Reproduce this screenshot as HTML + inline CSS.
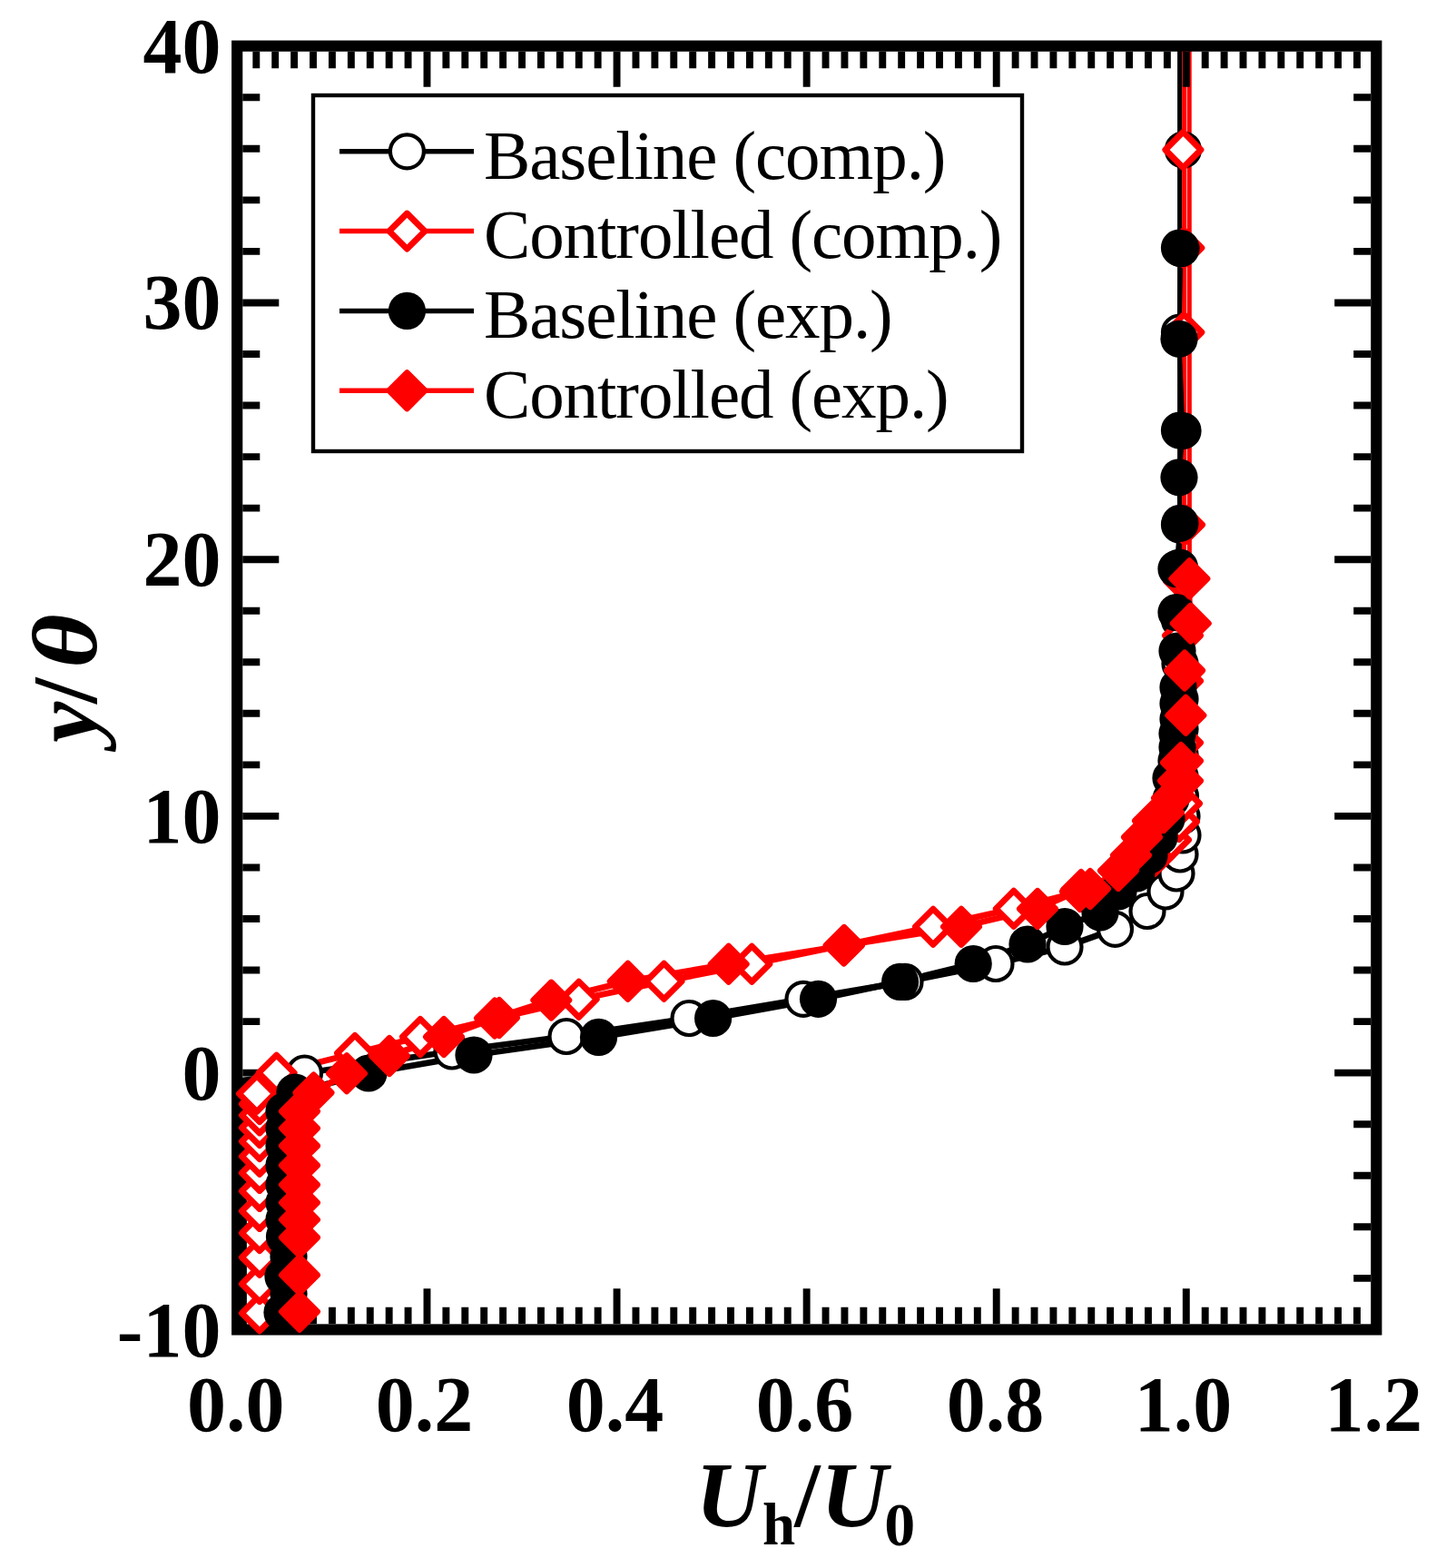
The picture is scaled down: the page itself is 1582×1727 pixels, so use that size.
<!DOCTYPE html>
<html><head><meta charset="utf-8"><style>
html,body{margin:0;padding:0;background:#fff;}
svg{display:block;}
.tk{font-family:"Liberation Serif",serif;font-weight:bold;font-size:86px;}
.lg{font-family:"Liberation Serif",serif;font-size:77px;letter-spacing:-1.1px;}
.ti{font-family:"Liberation Serif",serif;font-weight:bold;font-size:102px;}
.sub{font-size:66px;font-style:normal;}
</style></head><body>
<svg width="1582" height="1727" viewBox="0 0 1582 1727">
<polyline points="268.5,1464.0 268.5,1190.0 335.5,1182.0 498.0,1158.0 624.0,1141.5 759.0,1121.5 885.0,1100.3 997.0,1081.4 1097.0,1061.5 1173.0,1043.0 1228.5,1023.3 1264.0,1003.5 1284.0,982.0 1296.0,962.0 1300.0,941.0 1303.0,920.0 1302.0,899.0 1300.5,877.0 1300.0,855.0 1300.0,831.0 1300.0,803.0 1300.0,770.0 1300.0,731.0 1299.6,640.0" fill="none" stroke="#000" stroke-width="6.8" stroke-linejoin="round"/>
<polyline points="1299.6,640.0 1299.6,51.0" fill="none" stroke="#000" stroke-width="5.0" stroke-linejoin="round"/>
<polyline points="286.0,1446.3 286.0,1414.1 286.0,1384.8 286.0,1358.1 286.0,1333.9 286.0,1311.9 286.0,1291.9 286.0,1273.7 286.0,1257.1 286.0,1242.1 286.0,1228.4 286.0,1216.0 283.0,1204.7 304.6,1181.7 391.0,1160.0 463.0,1142.0 550.0,1121.0 637.7,1100.7 731.5,1080.8 828.3,1061.8 930.0,1041.0 1028.0,1020.7 1116.8,1000.8 1190.0,982.0 1240.0,962.0 1272.0,943.0 1290.0,925.0 1299.0,905.0 1302.0,885.0 1303.0,860.0 1303.0,838.0 1303.0,818.0 1303.0,790.0 1303.0,750.0 1303.0,700.0 1304.0,640.0" fill="none" stroke="#f00" stroke-width="6.8" stroke-linejoin="round"/>
<polyline points="1304.0,640.0 1304.6,578.0 1304.6,51.0" fill="none" stroke="#f00" stroke-width="5.0" stroke-linejoin="round"/>
<polyline points="311.0,1445.5 318.0,1425.0 312.0,1406.0 318.0,1384.0 313.5,1362.0 313.0,1343.3 313.0,1324.6 313.0,1304.9 313.0,1283.5 313.0,1262.0 313.0,1242.7 313.0,1224.0 325.0,1203.0 406.0,1182.0 522.0,1162.0 659.5,1142.4 785.6,1121.5 901.5,1100.3 991.6,1081.4 1072.2,1061.5 1132.0,1040.0 1173.0,1020.5 1212.0,1005.0 1232.0,982.0 1252.0,962.0 1266.0,942.0 1277.0,922.0 1285.0,902.0 1290.0,880.0 1290.0,857.0 1296.0,838.0 1297.0,823.0 1297.0,808.0 1298.0,792.0 1298.0,775.0 1298.0,757.0 1297.0,717.0 1296.0,674.6" fill="none" stroke="#000" stroke-width="6.8" stroke-linejoin="round"/>
<polyline points="1296.0,674.6 1296.0,626.6 1300.0,576.3 1299.0,525.8 1303.0,474.5 1299.0,373.3 1301.0,273.6" fill="none" stroke="#000" stroke-width="5.0" stroke-linejoin="round"/>
<polyline points="330.0,1444.7 330.0,1404.3 330.0,1363.0 330.0,1343.3 330.0,1324.6 330.0,1304.9 330.0,1283.5 330.0,1262.0 330.0,1242.7 330.0,1224.0 345.5,1203.5 382.0,1182.3 429.0,1163.0 489.0,1142.0 545.0,1121.5 607.3,1101.6 691.7,1080.8 802.7,1061.8 929.6,1041.5 1059.0,1020.7 1143.0,1001.0 1191.0,980.0 1201.0,979.0 1232.0,959.0 1246.0,942.0 1258.0,922.0 1270.0,904.0 1282.0,895.0 1291.0,879.0 1298.0,860.0 1301.0,840.0 1306.4,787.8 1305.1,738.5 1311.8,686.6" fill="none" stroke="#f00" stroke-width="6.8" stroke-linejoin="round"/>
<polyline points="1311.8,686.6 1310.4,637.3 1310.2,51.0" fill="none" stroke="#f00" stroke-width="5.0" stroke-linejoin="round"/>
<path d="M282.31,56.8v18.5 M282.31,1458.3v-18.5 M303.22,56.8v18.5 M303.22,1458.3v-18.5 M324.12,56.8v18.5 M324.12,1458.3v-18.5 M345.03,56.8v18.5 M345.03,1458.3v-18.5 M365.94,56.8v18.5 M365.94,1458.3v-18.5 M386.85,56.8v18.5 M386.85,1458.3v-18.5 M407.76,56.8v18.5 M407.76,1458.3v-18.5 M428.66,56.8v18.5 M428.66,1458.3v-18.5 M449.57,56.8v18.5 M449.57,1458.3v-18.5 M470.48,56.8v39 M470.48,1458.3v-39 M491.39,56.8v18.5 M491.39,1458.3v-18.5 M512.30,56.8v18.5 M512.30,1458.3v-18.5 M533.20,56.8v18.5 M533.20,1458.3v-18.5 M554.11,56.8v18.5 M554.11,1458.3v-18.5 M575.02,56.8v18.5 M575.02,1458.3v-18.5 M595.93,56.8v18.5 M595.93,1458.3v-18.5 M616.84,56.8v18.5 M616.84,1458.3v-18.5 M637.74,56.8v18.5 M637.74,1458.3v-18.5 M658.65,56.8v18.5 M658.65,1458.3v-18.5 M679.56,56.8v39 M679.56,1458.3v-39 M700.47,56.8v18.5 M700.47,1458.3v-18.5 M721.38,56.8v18.5 M721.38,1458.3v-18.5 M742.28,56.8v18.5 M742.28,1458.3v-18.5 M763.19,56.8v18.5 M763.19,1458.3v-18.5 M784.10,56.8v18.5 M784.10,1458.3v-18.5 M805.01,56.8v18.5 M805.01,1458.3v-18.5 M825.92,56.8v18.5 M825.92,1458.3v-18.5 M846.82,56.8v18.5 M846.82,1458.3v-18.5 M867.73,56.8v18.5 M867.73,1458.3v-18.5 M888.64,56.8v39 M888.64,1458.3v-39 M909.55,56.8v18.5 M909.55,1458.3v-18.5 M930.46,56.8v18.5 M930.46,1458.3v-18.5 M951.36,56.8v18.5 M951.36,1458.3v-18.5 M972.27,56.8v18.5 M972.27,1458.3v-18.5 M993.18,56.8v18.5 M993.18,1458.3v-18.5 M1014.09,56.8v18.5 M1014.09,1458.3v-18.5 M1035.00,56.8v18.5 M1035.00,1458.3v-18.5 M1055.90,56.8v18.5 M1055.90,1458.3v-18.5 M1076.81,56.8v18.5 M1076.81,1458.3v-18.5 M1097.72,56.8v39 M1097.72,1458.3v-39 M1118.63,56.8v18.5 M1118.63,1458.3v-18.5 M1139.54,56.8v18.5 M1139.54,1458.3v-18.5 M1160.44,56.8v18.5 M1160.44,1458.3v-18.5 M1181.35,56.8v18.5 M1181.35,1458.3v-18.5 M1202.26,56.8v18.5 M1202.26,1458.3v-18.5 M1223.17,56.8v18.5 M1223.17,1458.3v-18.5 M1244.08,56.8v18.5 M1244.08,1458.3v-18.5 M1264.98,56.8v18.5 M1264.98,1458.3v-18.5 M1285.89,56.8v18.5 M1285.89,1458.3v-18.5 M1306.80,56.8v39 M1306.80,1458.3v-39 M1327.71,56.8v18.5 M1327.71,1458.3v-18.5 M1348.62,56.8v18.5 M1348.62,1458.3v-18.5 M1369.52,56.8v18.5 M1369.52,1458.3v-18.5 M1390.43,56.8v18.5 M1390.43,1458.3v-18.5 M1411.34,56.8v18.5 M1411.34,1458.3v-18.5 M1432.25,56.8v18.5 M1432.25,1458.3v-18.5 M1453.16,56.8v18.5 M1453.16,1458.3v-18.5 M1474.06,56.8v18.5 M1474.06,1458.3v-18.5 M1494.97,56.8v18.5 M1494.97,1458.3v-18.5 M267.3,1407.85h19 M1510.2,1407.85h-19 M267.3,1351.30h19 M1510.2,1351.30h-19 M267.3,1294.76h19 M1510.2,1294.76h-19 M267.3,1238.21h19 M1510.2,1238.21h-19 M267.3,1181.66h40 M1510.2,1181.66h-40 M267.3,1125.11h19 M1510.2,1125.11h-19 M267.3,1068.56h19 M1510.2,1068.56h-19 M267.3,1012.02h19 M1510.2,1012.02h-19 M267.3,955.47h19 M1510.2,955.47h-19 M267.3,898.92h40 M1510.2,898.92h-40 M267.3,842.37h19 M1510.2,842.37h-19 M267.3,785.82h19 M1510.2,785.82h-19 M267.3,729.28h19 M1510.2,729.28h-19 M267.3,672.73h19 M1510.2,672.73h-19 M267.3,616.18h40 M1510.2,616.18h-40 M267.3,559.63h19 M1510.2,559.63h-19 M267.3,503.08h19 M1510.2,503.08h-19 M267.3,446.54h19 M1510.2,446.54h-19 M267.3,389.99h19 M1510.2,389.99h-19 M267.3,333.44h40 M1510.2,333.44h-40 M267.3,276.89h19 M1510.2,276.89h-19 M267.3,220.34h19 M1510.2,220.34h-19 M267.3,163.80h19 M1510.2,163.80h-19 M267.3,107.25h19 M1510.2,107.25h-19" stroke="#000" stroke-width="7.9" fill="none"/>
<rect x="261.2" y="50.65" width="1255.1" height="1413.8" fill="none" stroke="#000" stroke-width="12.2"/>
<circle cx="335.5" cy="1182.0" r="18.5" fill="#fff" stroke="#000" stroke-width="4.2"/>
<circle cx="498.0" cy="1158.0" r="18.5" fill="#fff" stroke="#000" stroke-width="4.2"/>
<circle cx="624.0" cy="1141.5" r="18.5" fill="#fff" stroke="#000" stroke-width="4.2"/>
<circle cx="759.0" cy="1121.5" r="18.5" fill="#fff" stroke="#000" stroke-width="4.2"/>
<circle cx="885.0" cy="1100.3" r="18.5" fill="#fff" stroke="#000" stroke-width="4.2"/>
<circle cx="997.0" cy="1081.4" r="18.5" fill="#fff" stroke="#000" stroke-width="4.2"/>
<circle cx="1097.0" cy="1061.5" r="18.5" fill="#fff" stroke="#000" stroke-width="4.2"/>
<circle cx="1173.0" cy="1043.0" r="18.5" fill="#fff" stroke="#000" stroke-width="4.2"/>
<circle cx="1228.5" cy="1023.3" r="18.5" fill="#fff" stroke="#000" stroke-width="4.2"/>
<circle cx="1264.0" cy="1003.5" r="18.5" fill="#fff" stroke="#000" stroke-width="4.2"/>
<circle cx="1284.0" cy="982.0" r="18.5" fill="#fff" stroke="#000" stroke-width="4.2"/>
<circle cx="1296.0" cy="962.0" r="18.5" fill="#fff" stroke="#000" stroke-width="4.2"/>
<circle cx="1300.0" cy="941.0" r="18.5" fill="#fff" stroke="#000" stroke-width="4.2"/>
<circle cx="1303.0" cy="920.0" r="18.5" fill="#fff" stroke="#000" stroke-width="4.2"/>
<circle cx="1302.0" cy="899.0" r="18.5" fill="#fff" stroke="#000" stroke-width="4.2"/>
<circle cx="1300.5" cy="877.0" r="18.5" fill="#fff" stroke="#000" stroke-width="4.2"/>
<circle cx="1300.0" cy="855.0" r="18.5" fill="#fff" stroke="#000" stroke-width="4.2"/>
<circle cx="1300.0" cy="831.0" r="18.5" fill="#fff" stroke="#000" stroke-width="4.2"/>
<circle cx="1300.0" cy="803.0" r="18.5" fill="#fff" stroke="#000" stroke-width="4.2"/>
<circle cx="1300.0" cy="770.0" r="18.5" fill="#fff" stroke="#000" stroke-width="4.2"/>
<circle cx="1300.0" cy="731.0" r="18.5" fill="#fff" stroke="#000" stroke-width="4.2"/>
<circle cx="1299.5" cy="683.0" r="18.5" fill="#fff" stroke="#000" stroke-width="4.2"/>
<circle cx="1299.5" cy="625.0" r="18.5" fill="#fff" stroke="#000" stroke-width="4.2"/>
<circle cx="1299.5" cy="578.0" r="18.5" fill="#fff" stroke="#000" stroke-width="4.2"/>
<circle cx="1299.5" cy="474.0" r="18.5" fill="#fff" stroke="#000" stroke-width="4.2"/>
<circle cx="1299.5" cy="366.0" r="18.5" fill="#fff" stroke="#000" stroke-width="4.2"/>
<circle cx="1299.5" cy="273.0" r="18.5" fill="#fff" stroke="#000" stroke-width="4.2"/>
<circle cx="1303.4" cy="165.0" r="18.5" fill="#fff" stroke="#000" stroke-width="4.2"/>
<path d="M286.0,1426.7L305.6,1446.3L286.0,1465.9L266.4,1446.3Z" fill="#fff" stroke="#f00" stroke-width="6.8" stroke-linejoin="round"/>
<path d="M286.0,1394.5L305.6,1414.1L286.0,1433.7L266.4,1414.1Z" fill="#fff" stroke="#f00" stroke-width="6.8" stroke-linejoin="round"/>
<path d="M286.0,1365.2L305.6,1384.8L286.0,1404.4L266.4,1384.8Z" fill="#fff" stroke="#f00" stroke-width="6.8" stroke-linejoin="round"/>
<path d="M286.0,1338.5L305.6,1358.1L286.0,1377.7L266.4,1358.1Z" fill="#fff" stroke="#f00" stroke-width="6.8" stroke-linejoin="round"/>
<path d="M286.0,1314.3L305.6,1333.9L286.0,1353.5L266.4,1333.9Z" fill="#fff" stroke="#f00" stroke-width="6.8" stroke-linejoin="round"/>
<path d="M286.0,1292.3L305.6,1311.9L286.0,1331.5L266.4,1311.9Z" fill="#fff" stroke="#f00" stroke-width="6.8" stroke-linejoin="round"/>
<path d="M286.0,1272.3L305.6,1291.9L286.0,1311.5L266.4,1291.9Z" fill="#fff" stroke="#f00" stroke-width="6.8" stroke-linejoin="round"/>
<path d="M286.0,1254.1L305.6,1273.7L286.0,1293.3L266.4,1273.7Z" fill="#fff" stroke="#f00" stroke-width="6.8" stroke-linejoin="round"/>
<path d="M286.0,1237.5L305.6,1257.1L286.0,1276.7L266.4,1257.1Z" fill="#fff" stroke="#f00" stroke-width="6.8" stroke-linejoin="round"/>
<path d="M286.0,1222.5L305.6,1242.1L286.0,1261.7L266.4,1242.1Z" fill="#fff" stroke="#f00" stroke-width="6.8" stroke-linejoin="round"/>
<path d="M286.0,1208.8L305.6,1228.4L286.0,1248.0L266.4,1228.4Z" fill="#fff" stroke="#f00" stroke-width="6.8" stroke-linejoin="round"/>
<path d="M286.0,1196.4L305.6,1216.0L286.0,1235.6L266.4,1216.0Z" fill="#fff" stroke="#f00" stroke-width="6.8" stroke-linejoin="round"/>
<path d="M283.0,1185.1L302.6,1204.7L283.0,1224.3L263.4,1204.7Z" fill="#fff" stroke="#f00" stroke-width="6.8" stroke-linejoin="round"/>
<path d="M304.6,1162.1L324.2,1181.7L304.6,1201.3L285.0,1181.7Z" fill="#fff" stroke="#f00" stroke-width="6.8" stroke-linejoin="round"/>
<path d="M391.0,1140.4L410.6,1160.0L391.0,1179.6L371.4,1160.0Z" fill="#fff" stroke="#f00" stroke-width="6.8" stroke-linejoin="round"/>
<path d="M463.0,1122.4L482.6,1142.0L463.0,1161.6L443.4,1142.0Z" fill="#fff" stroke="#f00" stroke-width="6.8" stroke-linejoin="round"/>
<path d="M550.0,1101.4L569.6,1121.0L550.0,1140.6L530.4,1121.0Z" fill="#fff" stroke="#f00" stroke-width="6.8" stroke-linejoin="round"/>
<path d="M637.7,1081.1L657.3,1100.7L637.7,1120.3L618.1,1100.7Z" fill="#fff" stroke="#f00" stroke-width="6.8" stroke-linejoin="round"/>
<path d="M731.5,1061.2L751.1,1080.8L731.5,1100.4L711.9,1080.8Z" fill="#fff" stroke="#f00" stroke-width="6.8" stroke-linejoin="round"/>
<path d="M828.3,1042.2L847.9,1061.8L828.3,1081.4L808.7,1061.8Z" fill="#fff" stroke="#f00" stroke-width="6.8" stroke-linejoin="round"/>
<path d="M930.0,1021.4L949.6,1041.0L930.0,1060.6L910.4,1041.0Z" fill="#fff" stroke="#f00" stroke-width="6.8" stroke-linejoin="round"/>
<path d="M1028.0,1001.1L1047.6,1020.7L1028.0,1040.3L1008.4,1020.7Z" fill="#fff" stroke="#f00" stroke-width="6.8" stroke-linejoin="round"/>
<path d="M1116.8,981.2L1136.4,1000.8L1116.8,1020.4L1097.2,1000.8Z" fill="#fff" stroke="#f00" stroke-width="6.8" stroke-linejoin="round"/>
<path d="M1190.0,962.4L1209.6,982.0L1190.0,1001.6L1170.4,982.0Z" fill="#fff" stroke="#f00" stroke-width="6.8" stroke-linejoin="round"/>
<path d="M1240.0,942.4L1259.6,962.0L1240.0,981.6L1220.4,962.0Z" fill="#fff" stroke="#f00" stroke-width="6.8" stroke-linejoin="round"/>
<path d="M1272.0,923.4L1291.6,943.0L1272.0,962.6L1252.4,943.0Z" fill="#fff" stroke="#f00" stroke-width="6.8" stroke-linejoin="round"/>
<path d="M1290.0,905.4L1309.6,925.0L1290.0,944.6L1270.4,925.0Z" fill="#fff" stroke="#f00" stroke-width="6.8" stroke-linejoin="round"/>
<path d="M1299.0,885.4L1318.6,905.0L1299.0,924.6L1279.4,905.0Z" fill="#fff" stroke="#f00" stroke-width="6.8" stroke-linejoin="round"/>
<path d="M1302.0,865.4L1321.6,885.0L1302.0,904.6L1282.4,885.0Z" fill="#fff" stroke="#f00" stroke-width="6.8" stroke-linejoin="round"/>
<path d="M1303.0,840.4L1322.6,860.0L1303.0,879.6L1283.4,860.0Z" fill="#fff" stroke="#f00" stroke-width="6.8" stroke-linejoin="round"/>
<path d="M1303.0,818.4L1322.6,838.0L1303.0,857.6L1283.4,838.0Z" fill="#fff" stroke="#f00" stroke-width="6.8" stroke-linejoin="round"/>
<path d="M1303.0,798.4L1322.6,818.0L1303.0,837.6L1283.4,818.0Z" fill="#fff" stroke="#f00" stroke-width="6.8" stroke-linejoin="round"/>
<path d="M1303.0,770.4L1322.6,790.0L1303.0,809.6L1283.4,790.0Z" fill="#fff" stroke="#f00" stroke-width="6.8" stroke-linejoin="round"/>
<path d="M1303.0,730.4L1322.6,750.0L1303.0,769.6L1283.4,750.0Z" fill="#fff" stroke="#f00" stroke-width="6.8" stroke-linejoin="round"/>
<path d="M1303.0,680.4L1322.6,700.0L1303.0,719.6L1283.4,700.0Z" fill="#fff" stroke="#f00" stroke-width="6.8" stroke-linejoin="round"/>
<path d="M1304.0,620.4L1323.6,640.0L1304.0,659.6L1284.4,640.0Z" fill="#fff" stroke="#f00" stroke-width="6.8" stroke-linejoin="round"/>
<path d="M1305.0,558.4L1324.6,578.0L1305.0,597.6L1285.4,578.0Z" fill="#fff" stroke="#f00" stroke-width="6.8" stroke-linejoin="round"/>
<path d="M1304.3,346.4L1323.9,366.0L1304.3,385.6L1284.7,366.0Z" fill="#fff" stroke="#f00" stroke-width="6.8" stroke-linejoin="round"/>
<path d="M1304.3,253.4L1323.9,273.0L1304.3,292.6L1284.7,273.0Z" fill="#fff" stroke="#f00" stroke-width="6.8" stroke-linejoin="round"/>
<path d="M1303.4,145.4L1323.0,165.0L1303.4,184.6L1283.8,165.0Z" fill="#fff" stroke="#f00" stroke-width="6.8" stroke-linejoin="round"/>
<circle cx="311.0" cy="1445.5" r="20.6" fill="#000"/>
<circle cx="318.0" cy="1425.0" r="20.6" fill="#000"/>
<circle cx="312.0" cy="1406.0" r="20.6" fill="#000"/>
<circle cx="318.0" cy="1384.0" r="20.6" fill="#000"/>
<circle cx="313.5" cy="1362.0" r="20.6" fill="#000"/>
<circle cx="313.0" cy="1343.3" r="20.6" fill="#000"/>
<circle cx="313.0" cy="1324.6" r="20.6" fill="#000"/>
<circle cx="313.0" cy="1304.9" r="20.6" fill="#000"/>
<circle cx="313.0" cy="1283.5" r="20.6" fill="#000"/>
<circle cx="313.0" cy="1262.0" r="20.6" fill="#000"/>
<circle cx="313.0" cy="1242.7" r="20.6" fill="#000"/>
<circle cx="313.0" cy="1224.0" r="20.6" fill="#000"/>
<circle cx="325.0" cy="1203.0" r="20.6" fill="#000"/>
<circle cx="406.0" cy="1182.0" r="20.6" fill="#000"/>
<circle cx="522.0" cy="1162.0" r="20.6" fill="#000"/>
<circle cx="659.5" cy="1142.4" r="20.6" fill="#000"/>
<circle cx="785.6" cy="1121.5" r="20.6" fill="#000"/>
<circle cx="901.5" cy="1100.3" r="20.6" fill="#000"/>
<circle cx="991.6" cy="1081.4" r="20.6" fill="#000"/>
<circle cx="1072.2" cy="1061.5" r="20.6" fill="#000"/>
<circle cx="1132.0" cy="1040.0" r="20.6" fill="#000"/>
<circle cx="1173.0" cy="1020.5" r="20.6" fill="#000"/>
<circle cx="1212.0" cy="1005.0" r="20.6" fill="#000"/>
<circle cx="1232.0" cy="982.0" r="20.6" fill="#000"/>
<circle cx="1252.0" cy="962.0" r="20.6" fill="#000"/>
<circle cx="1266.0" cy="942.0" r="20.6" fill="#000"/>
<circle cx="1277.0" cy="922.0" r="20.6" fill="#000"/>
<circle cx="1285.0" cy="902.0" r="20.6" fill="#000"/>
<circle cx="1290.0" cy="880.0" r="20.6" fill="#000"/>
<circle cx="1290.0" cy="857.0" r="20.6" fill="#000"/>
<circle cx="1296.0" cy="838.0" r="20.6" fill="#000"/>
<circle cx="1297.0" cy="823.0" r="20.6" fill="#000"/>
<circle cx="1297.0" cy="808.0" r="20.6" fill="#000"/>
<circle cx="1298.0" cy="792.0" r="20.6" fill="#000"/>
<circle cx="1298.0" cy="775.0" r="20.6" fill="#000"/>
<circle cx="1298.0" cy="757.0" r="20.6" fill="#000"/>
<circle cx="1297.0" cy="717.0" r="20.6" fill="#000"/>
<circle cx="1296.0" cy="674.6" r="20.6" fill="#000"/>
<circle cx="1296.0" cy="626.6" r="20.6" fill="#000"/>
<circle cx="1300.0" cy="576.3" r="20.6" fill="#000"/>
<circle cx="1299.0" cy="525.8" r="20.6" fill="#000"/>
<circle cx="1303.0" cy="474.5" r="20.6" fill="#000"/>
<circle cx="1299.0" cy="373.3" r="20.6" fill="#000"/>
<circle cx="1301.0" cy="273.6" r="20.6" fill="#000"/>
<path d="M330.0,1425.1L349.6,1444.7L330.0,1464.3L310.4,1444.7Z" fill="#f00" stroke="#f00" stroke-width="6.8" stroke-linejoin="round"/>
<path d="M330.0,1384.7L349.6,1404.3L330.0,1423.9L310.4,1404.3Z" fill="#f00" stroke="#f00" stroke-width="6.8" stroke-linejoin="round"/>
<path d="M330.0,1343.4L349.6,1363.0L330.0,1382.6L310.4,1363.0Z" fill="#f00" stroke="#f00" stroke-width="6.8" stroke-linejoin="round"/>
<path d="M330.0,1323.7L349.6,1343.3L330.0,1362.9L310.4,1343.3Z" fill="#f00" stroke="#f00" stroke-width="6.8" stroke-linejoin="round"/>
<path d="M330.0,1305.0L349.6,1324.6L330.0,1344.2L310.4,1324.6Z" fill="#f00" stroke="#f00" stroke-width="6.8" stroke-linejoin="round"/>
<path d="M330.0,1285.3L349.6,1304.9L330.0,1324.5L310.4,1304.9Z" fill="#f00" stroke="#f00" stroke-width="6.8" stroke-linejoin="round"/>
<path d="M330.0,1263.9L349.6,1283.5L330.0,1303.1L310.4,1283.5Z" fill="#f00" stroke="#f00" stroke-width="6.8" stroke-linejoin="round"/>
<path d="M330.0,1242.4L349.6,1262.0L330.0,1281.6L310.4,1262.0Z" fill="#f00" stroke="#f00" stroke-width="6.8" stroke-linejoin="round"/>
<path d="M330.0,1223.1L349.6,1242.7L330.0,1262.3L310.4,1242.7Z" fill="#f00" stroke="#f00" stroke-width="6.8" stroke-linejoin="round"/>
<path d="M330.0,1204.4L349.6,1224.0L330.0,1243.6L310.4,1224.0Z" fill="#f00" stroke="#f00" stroke-width="6.8" stroke-linejoin="round"/>
<path d="M345.5,1183.9L365.1,1203.5L345.5,1223.1L325.9,1203.5Z" fill="#f00" stroke="#f00" stroke-width="6.8" stroke-linejoin="round"/>
<path d="M382.0,1162.7L401.6,1182.3L382.0,1201.9L362.4,1182.3Z" fill="#f00" stroke="#f00" stroke-width="6.8" stroke-linejoin="round"/>
<path d="M429.0,1143.4L448.6,1163.0L429.0,1182.6L409.4,1163.0Z" fill="#f00" stroke="#f00" stroke-width="6.8" stroke-linejoin="round"/>
<path d="M489.0,1122.4L508.6,1142.0L489.0,1161.6L469.4,1142.0Z" fill="#f00" stroke="#f00" stroke-width="6.8" stroke-linejoin="round"/>
<path d="M545.0,1101.9L564.6,1121.5L545.0,1141.1L525.4,1121.5Z" fill="#f00" stroke="#f00" stroke-width="6.8" stroke-linejoin="round"/>
<path d="M607.3,1082.0L626.9,1101.6L607.3,1121.2L587.7,1101.6Z" fill="#f00" stroke="#f00" stroke-width="6.8" stroke-linejoin="round"/>
<path d="M691.7,1061.2L711.3,1080.8L691.7,1100.4L672.1,1080.8Z" fill="#f00" stroke="#f00" stroke-width="6.8" stroke-linejoin="round"/>
<path d="M802.7,1042.2L822.3,1061.8L802.7,1081.4L783.1,1061.8Z" fill="#f00" stroke="#f00" stroke-width="6.8" stroke-linejoin="round"/>
<path d="M929.6,1021.9L949.2,1041.5L929.6,1061.1L910.0,1041.5Z" fill="#f00" stroke="#f00" stroke-width="6.8" stroke-linejoin="round"/>
<path d="M1059.0,1001.1L1078.6,1020.7L1059.0,1040.3L1039.4,1020.7Z" fill="#f00" stroke="#f00" stroke-width="6.8" stroke-linejoin="round"/>
<path d="M1143.0,981.4L1162.6,1001.0L1143.0,1020.6L1123.4,1001.0Z" fill="#f00" stroke="#f00" stroke-width="6.8" stroke-linejoin="round"/>
<path d="M1191.0,960.4L1210.6,980.0L1191.0,999.6L1171.4,980.0Z" fill="#f00" stroke="#f00" stroke-width="6.8" stroke-linejoin="round"/>
<path d="M1201.0,959.4L1220.6,979.0L1201.0,998.6L1181.4,979.0Z" fill="#f00" stroke="#f00" stroke-width="6.8" stroke-linejoin="round"/>
<path d="M1232.0,939.4L1251.6,959.0L1232.0,978.6L1212.4,959.0Z" fill="#f00" stroke="#f00" stroke-width="6.8" stroke-linejoin="round"/>
<path d="M1246.0,922.4L1265.6,942.0L1246.0,961.6L1226.4,942.0Z" fill="#f00" stroke="#f00" stroke-width="6.8" stroke-linejoin="round"/>
<path d="M1258.0,902.4L1277.6,922.0L1258.0,941.6L1238.4,922.0Z" fill="#f00" stroke="#f00" stroke-width="6.8" stroke-linejoin="round"/>
<path d="M1270.0,884.4L1289.6,904.0L1270.0,923.6L1250.4,904.0Z" fill="#f00" stroke="#f00" stroke-width="6.8" stroke-linejoin="round"/>
<path d="M1282.0,875.4L1301.6,895.0L1282.0,914.6L1262.4,895.0Z" fill="#f00" stroke="#f00" stroke-width="6.8" stroke-linejoin="round"/>
<path d="M1291.0,859.4L1310.6,879.0L1291.0,898.6L1271.4,879.0Z" fill="#f00" stroke="#f00" stroke-width="6.8" stroke-linejoin="round"/>
<path d="M1298.0,840.4L1317.6,860.0L1298.0,879.6L1278.4,860.0Z" fill="#f00" stroke="#f00" stroke-width="6.8" stroke-linejoin="round"/>
<path d="M1301.0,820.4L1320.6,840.0L1301.0,859.6L1281.4,840.0Z" fill="#f00" stroke="#f00" stroke-width="6.8" stroke-linejoin="round"/>
<path d="M1306.4,768.2L1326.0,787.8L1306.4,807.4L1286.8,787.8Z" fill="#f00" stroke="#f00" stroke-width="6.8" stroke-linejoin="round"/>
<path d="M1305.1,718.9L1324.7,738.5L1305.1,758.1L1285.5,738.5Z" fill="#f00" stroke="#f00" stroke-width="6.8" stroke-linejoin="round"/>
<path d="M1311.8,667.0L1331.4,686.6L1311.8,706.2L1292.2,686.6Z" fill="#f00" stroke="#f00" stroke-width="6.8" stroke-linejoin="round"/>
<path d="M1310.4,617.7L1330.0,637.3L1310.4,656.9L1290.8,637.3Z" fill="#f00" stroke="#f00" stroke-width="6.8" stroke-linejoin="round"/>
<rect x="345" y="105" width="781" height="392" fill="#fff" stroke="#000" stroke-width="4.4"/>
<line x1="374" y1="166.8" x2="522" y2="166.8" stroke="#000" stroke-width="5.5"/>
<circle cx="448.4" cy="166.8" r="18.5" fill="#fff" stroke="#000" stroke-width="4.2"/>
<text x="533" y="196.6" class="lg">Baseline (comp.)</text>
<line x1="374" y1="254.6" x2="522" y2="254.6" stroke="#f00" stroke-width="5.5"/>
<path d="M448.4,235.0L468.0,254.6L448.4,274.2L428.8,254.6Z" fill="#fff" stroke="#f00" stroke-width="6.8" stroke-linejoin="round"/>
<text x="533" y="284.4" class="lg">Controlled (comp.)</text>
<line x1="374" y1="342.4" x2="522" y2="342.4" stroke="#000" stroke-width="5.5"/>
<circle cx="448.4" cy="342.4" r="20.6" fill="#000"/>
<text x="533" y="372.2" class="lg">Baseline (exp.)</text>
<line x1="374" y1="430.2" x2="522" y2="430.2" stroke="#f00" stroke-width="5.5"/>
<path d="M448.4,410.6L468.0,430.2L448.4,449.8L428.8,430.2Z" fill="#f00" stroke="#f00" stroke-width="6.8" stroke-linejoin="round"/>
<text x="533" y="460.0" class="lg">Controlled (exp.)</text>
<text x="243.5" y="79.5" class="tk" text-anchor="end">40</text>
<text x="243.5" y="362.3" class="tk" text-anchor="end">30</text>
<text x="243.5" y="645.1" class="tk" text-anchor="end">20</text>
<text x="243.5" y="927.9" class="tk" text-anchor="end">10</text>
<text x="243.5" y="1210.7" class="tk" text-anchor="end">0</text>
<text x="243.5" y="1493.5" class="tk" text-anchor="end">-10</text>
<text x="259.8" y="1576" class="tk" text-anchor="middle">0.0</text>
<text x="467.6" y="1576" class="tk" text-anchor="middle">0.2</text>
<text x="677.4" y="1576" class="tk" text-anchor="middle">0.4</text>
<text x="886.4" y="1576" class="tk" text-anchor="middle">0.6</text>
<text x="1096.4" y="1576" class="tk" text-anchor="middle">0.8</text>
<text x="1303.5" y="1576" class="tk" text-anchor="middle">1.0</text>
<text x="1513.2" y="1576" class="tk" text-anchor="middle">1.2</text>
<text class="ti" y="1681"><tspan x="766.3" font-style="italic">U</tspan><tspan x="840" y="1701" style="font-size:65px">h</tspan><tspan x="875.3" y="1681">/</tspan><tspan x="904.1" font-style="italic">U</tspan><tspan x="974.3" y="1701.5" style="font-size:68px">0</tspan></text>
<g transform="translate(106,0) rotate(-90)"><text class="ti" y="0"><tspan x="-818" font-style="italic">y</tspan><tspan x="-775">/</tspan></text></g>
<text class="ti" font-style="italic" text-anchor="middle" transform="translate(106,706) rotate(-90) scale(1.13,1)">θ</text>
</svg>
</body></html>
